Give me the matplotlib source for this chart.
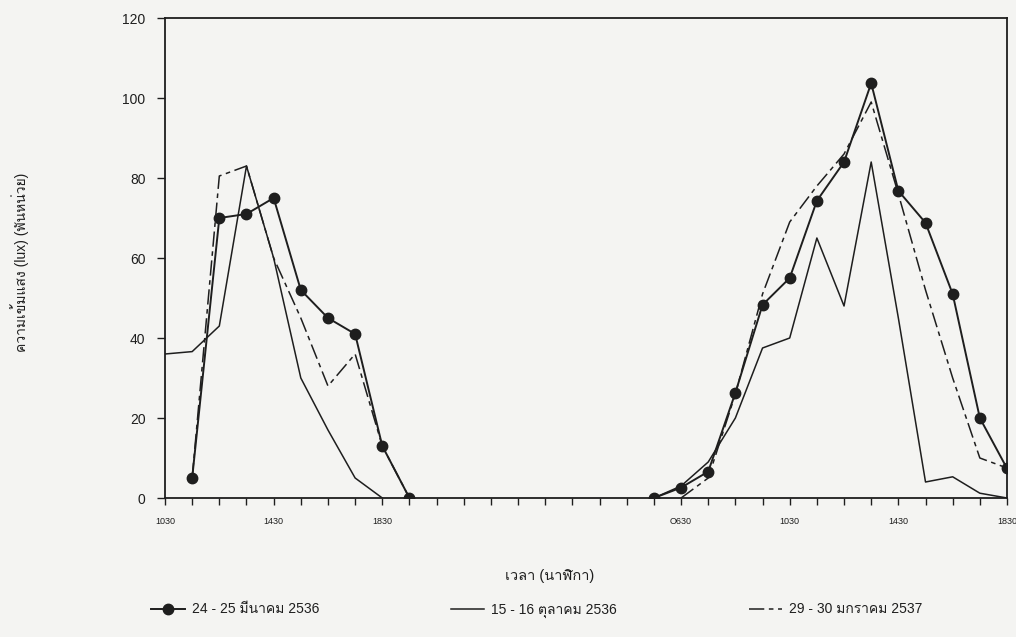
import numpy as np
import matplotlib
matplotlib.use("Agg")
import matplotlib.pyplot as plt
from matplotlib import font_manager, ft2font


# find some installed font that has Thai glyphs
def thai_family():
    for f in font_manager.fontManager.ttflist:
        try:
            if 0x0E01 in ft2font.FT2Font(f.fname).get_charmap():
                return f.name
        except Exception:
            pass
    return 'DejaVu Sans'


plt.rcParams['font.family'] = ['Liberation Sans', thai_family(), 'DejaVu Sans']

nan = np.nan

# time slots (categorical, as in the original plot)
n_slots = 32
tick_labels = {0: '1030', 4: '1430', 8: '1830', 19: 'O630', 23: '1030', 27: '1430', 31: '1830'}

# 24 - 25 March 2536 (filled circles)
march = [nan, 5, 70, 71, 75, 52, 45, 41, 13, 0,
         nan, nan, nan, nan, nan, nan, nan, nan,
         0, 2.6, 6.6, 26.3, 48.3, 55, 74.3, 84, 103.7, 76.8, 68.8, 51, 20, 7.4]

# 15 - 16 October 2536 (solid)
october = [36, 36.6, 43, 83, 60, 30, 17, 5, 0,
           nan, nan, nan, nan, nan, nan, nan, nan, nan,
           0, 3, 9, 20, 37.5, 40, 65, 48, 84, 45, 4, 5.3, 1.2, 0]

# 29 - 30 January 2537 (dash-dot)
january = [nan, 5, 80.5, 83, 60, 45, 28, 36, 13, 0,
           nan, nan, nan, nan, nan, nan, nan, nan, nan,
           0, 5, 26, 51, 69, 78, 86, 99, 76, 52, 30, 10, 7.5]

x = np.arange(n_slots)
ink = '#1e1e1e'
bg = '#f4f4f2'

fig = plt.figure(figsize=(10.16, 6.37), dpi=100, facecolor=bg)
ax = fig.add_axes([165 / 1016, 1 - 498 / 637, 842 / 1016, 480 / 637], facecolor=bg)

ax.plot(x, march, color=ink, lw=1.4, marker='o', ms=7.5, label='24 - 25 มีนาคม 2536')
ax.plot(x, october, color=ink, lw=1.1, label='15 - 16 ตุลาคม 2536')
ax.plot(x, january, color=ink, lw=1.1, dashes=(10, 3, 3, 3), label='29 - 30 มกราคม 2537')

ax.set_xlim(0, 31)
ax.set_ylim(0, 120)
ax.set_yticks(np.arange(0, 121, 20))
ax.set_xticks(x)
ax.set_xticklabels([tick_labels.get(i, '') for i in x], fontsize=6.5)
ax.tick_params(axis='x', length=5, width=1, pad=9, colors=ink)
ax.tick_params(axis='y', length=6, width=1, pad=8, labelsize=10, colors=ink)
for s in ax.spines.values():
    s.set_linewidth(1.3)
    s.set_color(ink)

fig.text(20 / 1016, 1 - 262 / 637, 'ความเข้มแสง (lux) (พันหน่วย)', rotation=90,
         ha='center', va='center', fontsize=10, color=ink)
fig.text(550 / 1016, 1 - 576 / 637, 'เวลา (นาฬิกา)', ha='center', va='center',
         fontsize=10.5, color=ink)

fig.legend(loc='center', bbox_to_anchor=(537 / 1016, 1 - 610 / 637), ncol=3,
           frameon=False, fontsize=10, handlelength=2.4, columnspacing=9.5,
           handletextpad=0.5, labelcolor=ink)

fig.savefig('out.png', dpi=100, facecolor=bg)
